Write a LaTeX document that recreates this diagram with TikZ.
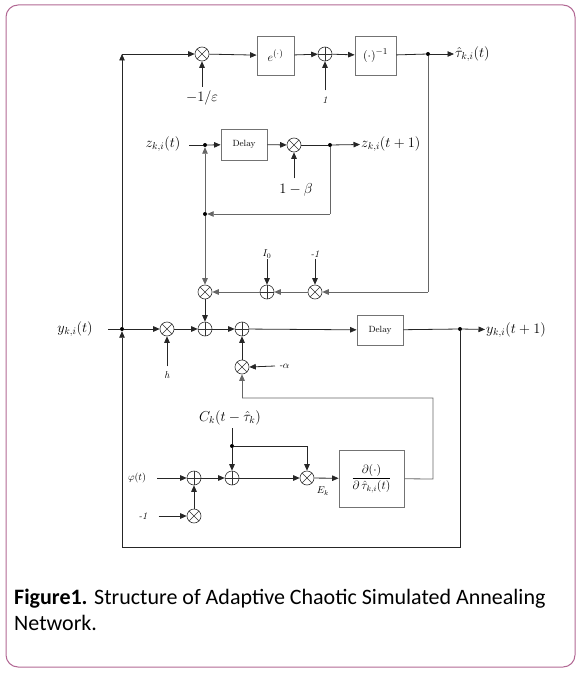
\documentclass[tikz,border=0pt]{standalone}
\usepackage{fontspec}
\newfontfamily\capfont{Carlito}
\usetikzlibrary{arrows.meta}
\begin{document}
\begin{tikzpicture}[x=1pt,y=-1pt,
  ln/.style={line width=0.8pt,draw=black!85},
  gl/.style={line width=0.8pt,draw=black!60},
  arr/.style={ln,-{Triangle[length=6.5pt,width=5.5pt]}},
  garr/.style={gl,-{Triangle[length=6.5pt,width=5.5pt]}},
  mul/.style={circle,draw=black!80,line width=0.6pt,minimum size=14pt,inner sep=0pt,
    path picture={\draw[line width=0.5pt] (path picture bounding box.north west)--(path picture bounding box.south east)
      (path picture bounding box.north east)--(path picture bounding box.south west);}},
  add/.style={circle,draw=black!80,line width=0.6pt,minimum size=14pt,inner sep=0pt,
    path picture={\draw[line width=0.5pt] (path picture bounding box.north)--(path picture bounding box.south)
      (path picture bounding box.east)--(path picture bounding box.west);}},
  blk/.style={draw=black!55,line width=0.8pt,fill=white,inner sep=0pt},
  dot/.style={circle,fill=black,inner sep=0pt,minimum size=4pt},
  lab/.style={inner sep=1pt,font=\fontsize{14}{16}\selectfont},
  slab/.style={inner sep=1pt,font=\fontsize{10}{12}\selectfont\itshape},
  dlab/.style={font=\fontsize{9}{10}\selectfont}
]
\useasboundingbox (0,0) rectangle (584,674);
\draw[draw={rgb,255:red,178;green,104;blue,148},line width=1pt,rounded corners=12pt] (6,5) rectangle (575,667);

% ---------- top row
\coordinate (tl) at (122,54);
\node[mul] (m1) at (202,54) {};
\node[blk,minimum width=37pt,minimum height=39pt] (ebox) at (275.5,55.5) {\fontsize{13}{15}\selectfont$e^{(\cdot)}$};
\node[add] (a1) at (325,54) {};
\node[blk,minimum width=41pt,minimum height=39pt] (inv) at (375.5,55.5) {\fontsize{13}{15}\selectfont$(\cdot)^{-1}$};
\node[dot] (dtau) at (428,54) {};
\node[lab,anchor=west] (tau) at (454,54) {$\hat{\tau}_{k,i}(t)$};
\node[lab] (eps) at (202,98) {$-1/\varepsilon$};
\node[slab] (one) at (325,100) {1};

\draw[arr] (tl) -- (m1);
\draw[arr] (m1) -- (ebox);
\draw[arr] (ebox) -- (a1);
\draw[arr] (a1) -- (inv);
\draw[ln] (inv) -- (dtau);
\draw[arr] (dtau) -- (tau);
\draw[arr] (eps.north) ++(0,-3) -- (m1.south);
\draw[arr] (one.north) ++(0,-5) -- (a1.south);

% ---------- z section
\node[lab] (zin) at (163,144) {$z_{k,i}(t)$};
\node[dot] (dz) at (205,145) {};
\node[blk,dlab,minimum width=46pt,minimum height=31pt] (d1) at (244,144.5) {Delay};
\node[mul] (m2) at (294,145) {};
\node[dot] (dz2) at (330,145) {};
\node[lab,anchor=west] (zout) at (360,144) {$z_{k,i}(t+1)$};
\node[lab] (beta) at (296,190) {$1-\beta$};
\node[dot] (dfb) at (205,214) {};
\coordinate (zc) at (330,214);

\draw[ln] (zin) ++(26,1) -- (dz);
\draw[arr] (dz) -- (d1);
\draw[arr] (d1) -- (m2);
\draw[ln] (m2) -- (dz2);
\draw[arr] (dz2) -- (zout);
\draw[arr] (beta.north) ++(-2,-4) -- (m2.south);
\draw[gl] (dz2) -- (zc);
\draw[garr] (zc) -- (dfb);
\draw[garr] (dfb) -- (dz);

% ---------- middle section
\node[mul] (mA) at (205,292) {};
\node[add] (aI) at (267,292) {};
\node[mul] (mm) at (315,292) {};
\node[slab] (I0) at (267,254) {$I_0$};
\node[slab] (mone) at (315,254) {-1};
\coordinate (tc) at (428,292);

\draw[garr] (dfb) -- (mA);
\draw[gl] (dtau) -- (tc);
\draw[garr] (tc) -- (mm);
\draw[garr] (mm) -- (aI);
\draw[garr] (aI) -- (mA);
\draw[arr] (I0.south) -- (aI.north);
\draw[arr] (mone.south) -- (mm.north);

% ---------- main line
\node[lab] (yin) at (75,329) {$y_{k,i}(t)$};
\node[dot] (dy) at (122,329) {};
\node[mul] (mh) at (167,329) {};
\node[add] (aB) at (205,329) {};
\node[add] (aC) at (242,329) {};
\node[blk,dlab,minimum width=46pt,minimum height=30pt] (d2) at (380,330) {Delay};
\node[dot] (dy2) at (460,329) {};
\node[lab,anchor=west] (yout) at (485,330) {$y_{k,i}(t+1)$};
\node[slab] (h) at (167,375) {h};
\node[mul] (mal) at (242,367) {};
\node[slab,anchor=west] (alpha) at (278,366) {-$\alpha$};

\draw[ln,shorten <=14pt] (yin) -- (dy);
\draw[arr] (dy) -- (mh);
\draw[arr] (mh) -- (aB);
\draw[arr] (mA) -- (aB);
\draw[arr] (aB) -- (aC);
\draw[arr] (aC) -- (d2);
\draw[ln] (d2) -- (dy2);
\draw[arr] (dy2) -- (yout);
\draw[arr] (h.north) ++(0,-4) -- (mh.south);
\draw[arr] (mal) -- (aC);
\draw[arr] (alpha.west) ++(-3,0) -- (mal.east);

% ---------- bottom section
\node[lab] (ck) at (230,418) {$C_k(t-\hat{\tau}_k)$};
\node[dot] (dc) at (232,446) {};
\node[slab] (phi) at (137,478) {$\varphi(t)$};
\node[add] (aD) at (194,478) {};
\node[add] (aE) at (232,478) {};
\node[mul] (mF) at (307,478) {};
\node[blk,minimum width=65pt,minimum height=57pt,font=\fontsize{12}{14}\selectfont] (der) at (371.5,478.5)
  {$\displaystyle\frac{\partial(\cdot)}{\partial\,\hat{\tau}_{k,i}(t)}$};
\node[slab] (ek) at (323,491) {$E_k$};
\node[mul] (mG) at (194,516) {};
\node[slab] (mone2) at (143,516) {-1};
\coordinate (cF) at (307,446);
\coordinate (r1) at (433,479);
\coordinate (r2) at (433,398);
\coordinate (r3) at (242,398);
\coordinate (br) at (460,547);
\coordinate (bl) at (122,547);

\draw[ln] (ck.south) ++(2,2) -- (dc);
\draw[arr] (dc) -- (aE);
\draw[ln] (dc) -- (cF);
\draw[arr] (cF) -- (mF);
\draw[arr] (phi.east) ++(10,0) -- (aD.west);
\draw[arr] (aD) -- (aE);
\draw[arr] (aE) -- (mF);
\draw[arr] (mF) -- (der);
\draw[arr] (mG) -- (aD);
\draw[arr] (mone2.east) ++(10,0) -- (mG.west);
\draw[gl] (der) -- (r1) -- (r2) -- (r3);
\draw[garr] (r3) -- (mal);

% ---------- outer loop
\draw[ln] (dy2) -- (br) -- (bl);
\draw[arr] (bl) -- (dy);
\draw[arr] (dy) -- (tl);

% ---------- caption
\node[anchor=base west,inner sep=0pt,font=\capfont\fontsize{22}{26}\selectfont] (cap1) at (14,604)
  {\textbf{Figure1.} Structure of Adaptive Chaotic Simulated Annealing};
\node[anchor=base west,inner sep=0pt,font=\capfont\fontsize{22}{26}\selectfont] (cap2) at (14,630)
  {Network.};
\end{tikzpicture}
\end{document}
